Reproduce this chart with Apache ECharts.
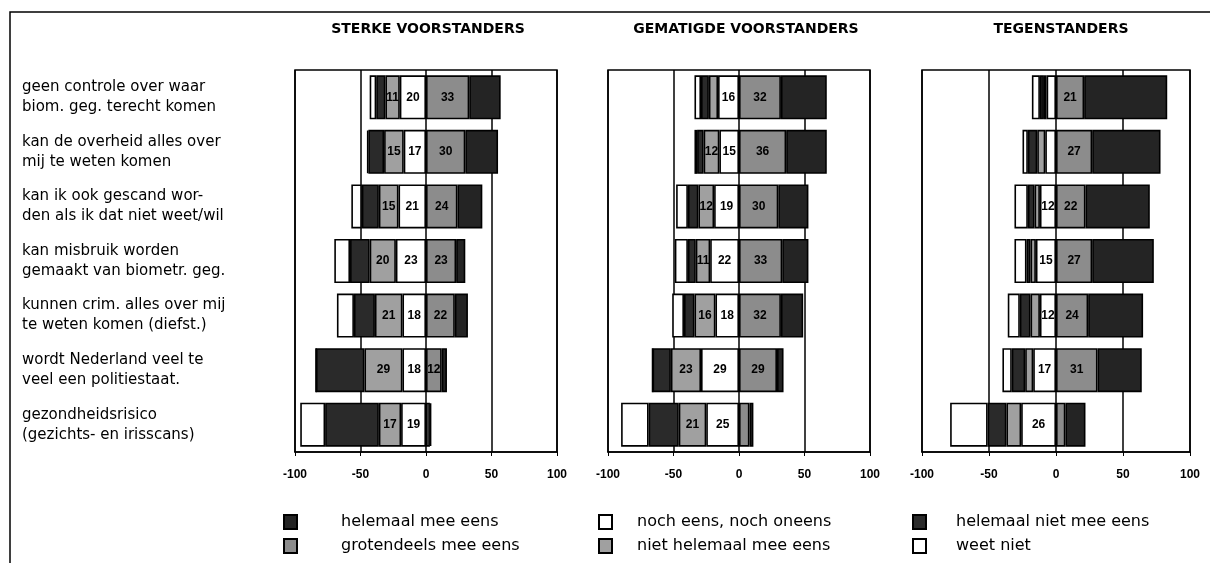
<!DOCTYPE html>
<html>
<head>
<meta charset="utf-8">
<script src="https://cdn.jsdelivr.net/npm/echarts@6/dist/echarts.min.js"></script>
<style>
  html, body { margin: 0; padding: 0; background: #fff; }
  #chart { width: 1210px; height: 563px; }
</style>
</head>
<body>
<div id="chart"></div>
<script>
// Categories (rows, top to bottom)
const categories = [
    'geen controle over waar\nbiom. geg. terecht komen',
    'kan de overheid alles over\nmij te weten komen',
    'kan ik ook gescand wor-\nden als ik dat niet weet/wil',
    'kan misbruik worden\ngemaakt van biometr. geg.',
    'kunnen crim. alles over mij\nte weten komen (diefst.)',
    'wordt Nederland veel te\nveel een politiestaat.',
    'gezondheidsrisico\n(gezichts- en irisscans)'
];

const panelTitles = ['STERKE VOORSTANDERS', 'GEMATIGDE VOORSTANDERS', 'TEGENSTANDERS'];
const xTicks = [-100, -50, 0, 50, 100];

// Answer categories
const answerNames = [
    'helemaal mee eens',
    'grotendeels mee eens',
    'noch eens, noch oneens',
    'niet helemaal mee eens',
    'helemaal niet mee eens',
    'weet niet'
];

// Sterke voorstanders (percentages)
const sterkHelemaalMee = [24, 25, 19, 7, 10, 4, 1];
const sterkGrotendeels = [33, 30, 24, 23, 22, 12, 3];
const sterkNeutraal = [20, 17, 21, 23, 18, 18, 19];
const sterkNietHelemaal = [11, 15, 15, 20, 21, 29, 17];
const sterkHelemaalNiet = [7, 12, 13, 15, 16, 37, 41];
const sterkWeetNiet = [5, 1, 8, 12, 13, 0, 19];

// Gematigde voorstanders
const gematigdHelemaalMee = [35, 31, 23, 20, 17, 5, 3];
const gematigdGrotendeels = [32, 36, 30, 33, 32, 29, 8];
const gematigdNeutraal = [16, 15, 19, 22, 18, 29, 25];
const gematigdNietHelemaal = [7, 12, 12, 11, 16, 23, 21];
const gematigdHelemaalNiet = [6, 5, 8, 6, 8, 14, 23];
const gematigdWeetNiet = [5, 2, 9, 10, 9, 0, 21];

// Tegenstanders
const tegenHelemaalMee = [62, 51, 48, 46, 41, 33, 15];
const tegenGrotendeels = [21, 27, 22, 27, 24, 31, 7];
const tegenNeutraal = [7, 8, 12, 15, 12, 17, 26];
const tegenNietHelemaal = [2, 6, 4, 4, 7, 6, 11];
const tegenHelemaalNiet = [3, 7, 5, 3, 8, 10, 14];
const tegenWeetNiet = [6, 4, 10, 9, 9, 7, 28];

const panels = [
    [sterkHelemaalMee, sterkGrotendeels, sterkNeutraal, sterkNietHelemaal, sterkHelemaalNiet, sterkWeetNiet],
    [gematigdHelemaalMee, gematigdGrotendeels, gematigdNeutraal, gematigdNietHelemaal, gematigdHelemaalNiet, gematigdWeetNiet],
    [tegenHelemaalMee, tegenGrotendeels, tegenNeutraal, tegenNietHelemaal, tegenHelemaalNiet, tegenWeetNiet]
];

// styling
const FONT = '"Liberation Sans", Arial, sans-serif';
const WIDE = '"DejaVu Sans", "Liberation Sans", sans-serif';
const fills = ['#242424', '#8c8c8c', '#ffffff', '#a0a0a0', '#2a2a2a', '#ffffff'];
// order in which the segments are stacked away from 0 (left side negative)
const stackOrder = [2, 3, 4, 5, 1, 0];
const leftSide = [false, false, true, true, true, true];
const gridBoxes = [
    { left: 295, width: 262 },
    { left: 608, width: 262 },
    { left: 922, width: 268 }
];
const titleCenters = [423, 741, 1056];

const grids = [];
const xAxes = [];
const yAxes = [];
const series = [];
const titles = [];

gridBoxes.forEach((g, p) => {
    grids.push({
        left: g.left, width: g.width, top: 70, height: 382,
        show: true, borderColor: '#000', borderWidth: 1.5
    });
    xAxes.push({
        type: 'value', gridIndex: p,
        min: xTicks[0], max: xTicks[xTicks.length - 1], interval: 50,
        axisLine: { show: true, lineStyle: { color: '#000', width: 1.5 } },
        axisTick: { show: true, length: 4, lineStyle: { color: '#000' } },
        splitLine: { show: true, lineStyle: { color: '#000', width: 1.5 } },
        axisLabel: {
            color: '#000', fontFamily: FONT, fontWeight: 'bold', fontSize: 12, margin: 17
        }
    });
    yAxes.push({
        type: 'category', gridIndex: p, inverse: true, data: categories,
        axisLine: { show: false }, axisTick: { show: false },
        axisLabel: p === 0 ? {
            show: true, align: 'left', margin: 273, color: '#000',
            fontFamily: WIDE, fontSize: 15, lineHeight: 20
        } : { show: false }
    });
    titles.push({
        text: panelTitles[p], left: titleCenters[p], top: 17, textAlign: 'center',
        textStyle: { fontFamily: WIDE, fontWeight: 'bold', fontSize: 14, color: '#000' }
    });

    stackOrder.forEach(k => {
        const vals = panels[p][k];
        // labels on grotendeels, neutraal and (not for tegenstanders) niet helemaal
        const labelled = k === 1 || k === 2 || (k === 3 && p < 2);
        series.push({
            name: answerNames[k],
            type: 'bar',
            xAxisIndex: p, yAxisIndex: p,
            stack: 'panel' + p,
            barWidth: 44,
            data: vals.map(v => leftSide[k] ? -v : v),
            itemStyle: { color: fills[k], borderColor: '#000', borderWidth: 1.6 },
            label: {
                show: labelled, position: 'inside', color: '#000',
                fontFamily: FONT, fontWeight: 'bold', fontSize: 12,
                formatter: prm => Math.abs(prm.value) >= 10 ? String(Math.abs(prm.value)) : ''
            },
            emphasis: { disabled: true },
            animation: false
        });
    });
});

const legendCols = [
    { left: 278, names: [answerNames[0], answerNames[1]], pad: 39 },
    { left: 593, names: [answerNames[2], answerNames[3]], pad: 20 },
    { left: 907, names: [answerNames[4], answerNames[5]], pad: 25 }
];

const legends = legendCols.map(c => ({
    left: c.left, top: 509, height: 80, orient: 'vertical',
    data: c.names, icon: 'rect',
    itemWidth: 13, itemHeight: 14, itemGap: 8,
    selectedMode: false,
    textStyle: { fontFamily: WIDE, fontSize: 16, color: '#000', padding: [0, 0, 0, c.pad] }
}));

const chart = echarts.init(document.getElementById('chart'), null, { renderer: 'canvas' });
chart.setOption({
    backgroundColor: '#fff',
    animation: false,
    title: titles,
    grid: grids,
    xAxis: xAxes,
    yAxis: yAxes,
    legend: legends,
    series: series,
    graphic: [{
        type: 'polyline',
        shape: { points: [[10, 570], [10, 12], [1210, 12]] },
        style: { stroke: '#000', lineWidth: 1.5, fill: null },
        silent: true
    }]
});
</script>
</body>
</html>
